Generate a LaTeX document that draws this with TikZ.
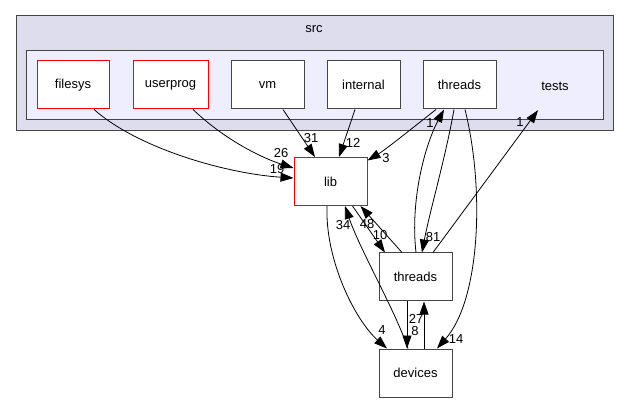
\documentclass[tikz,border=0pt]{standalone}
\usepackage{fontspec}
\setmainfont{Liberation Sans}
\usetikzlibrary{arrows.meta,calc}
\definecolor{srcfill}{HTML}{DDDDEE}
\definecolor{testsfill}{HTML}{EEEEFF}
\definecolor{bord}{HTML}{444444}
\begin{document}
\begin{tikzpicture}[x=1pt,y=-1pt,
  txt/.style={font=\fontsize{13}{15}\selectfont},
  box/.style={txt, draw=bord, line width=1pt, fill=white, minimum width=73pt, minimum height=48pt, inner sep=0pt},
  redbox/.style={box, draw=red},
  edge/.style={line width=0.8pt, -{Triangle[length=13pt,width=9pt]}},
  lbl/.style={txt, inner sep=0pt}]

\useasboundingbox (0,0) rectangle (629,403);

% clusters
\draw[fill=srcfill, draw=bord, line width=1pt] (16,15.5) rectangle (613,130.5);
\node[txt] (srclbl) at (314,29) {src};
\draw[fill=testsfill, draw=bord, line width=1pt] (26.5,51) rectangle (603,120);

% nodes
\node[redbox, minimum width=72pt] (filesys) at (73,85) {filesys};
\node[redbox, minimum width=75pt] (userprog) at (170.5,85) {userprog};
\node[box] (vm) at (267.5,85) {vm};
\node[box] (internal) at (363.5,85) {internal};
\node[box] (threadsT) at (459.5,85) {threads};
\node[txt, minimum width=73pt, minimum height=48pt, inner sep=0pt] (tests) at (555,86) {tests};
\node[redbox] (lib) at (330.5,181.5) {lib};
\node[box] (thr) at (415.5,277) {threads};
\node[box] (dev) at (415.5,373) {devices};

% edges
\draw[edge] ([xshift=21pt]filesys.south) .. controls (140,150) and (230,174) .. ([yshift=3.5pt]lib.west);
\draw[edge] ([xshift=22.5pt]userprog.south) .. controls (225,140) and (262,158) .. ([yshift=13.5pt]lib.west);
\draw[edge] ([xshift=15.5pt]vm.south) -- ([xshift=-15.5pt]lib.north);
\draw[edge] ([xshift=-8.5pt]internal.south) -- ([xshift=8.5pt]lib.north);
\draw[edge] ([xshift=-23.5pt]threadsT.south) .. controls (410,130) and (385,150) .. ([yshift=-3.5pt]lib.north east);
\draw[edge] ([xshift=0.5pt]thr.north) .. controls (410,200) and (425,145) .. ([xshift=-15.5pt]threadsT.south);
\draw[edge] ([xshift=-5.5pt]threadsT.south) .. controls (445,160) and (430,210) .. ([xshift=6.5pt]thr.north);
\draw[edge] ([xshift=5.5pt]threadsT.south) .. controls (485,190) and (480,300) .. ([xshift=21.5pt]dev.north);
\draw[edge] ([xshift=17.5pt]thr.north) -- ([xshift=-17pt]tests.south);
\draw[edge] ([xshift=-13.5pt]thr.north) -- ([xshift=-7pt]lib.south east);
\draw[edge] ([xshift=-15pt]lib.south east) -- ([xshift=-30.5pt]thr.north);
\draw[edge] ([xshift=-3.5pt]lib.south) .. controls (325,260) and (355,320) .. ([xshift=-28.5pt]dev.north);
\draw[edge] ([xshift=-7.5pt]dev.north) .. controls (395,310) and (360,250) .. ([xshift=14.5pt]lib.south);
\draw[edge] ([xshift=-8.5pt]thr.south) -- ([xshift=-8.5pt]dev.north);
\draw[edge] ([xshift=8.5pt]dev.north) -- ([xshift=8.5pt]thr.south);

% edge labels
\node[lbl] (l19) at (277,169) {19};
\node[lbl] (l26) at (281,153) {26};
\node[lbl] (l31) at (311,138) {31};
\node[lbl] (l12) at (353,143) {12};
\node[lbl] (l3) at (386,158) {3};
\node[lbl] (l1a) at (430,123) {1};
\node[lbl] (l1b) at (520,122) {1};
\node[lbl] (l81) at (433,237) {81};
\node[lbl] (l14) at (456,339) {14};
\node[lbl] (l48) at (367,224) {48};
\node[lbl] (l10) at (380,235) {10};
\node[lbl] (l34) at (343,225) {34};
\node[lbl] (l4) at (382,330) {4};
\node[lbl] (l27) at (416,319) {27};
\node[lbl] (l8) at (415,331) {8};
\end{tikzpicture}
\end{document}
